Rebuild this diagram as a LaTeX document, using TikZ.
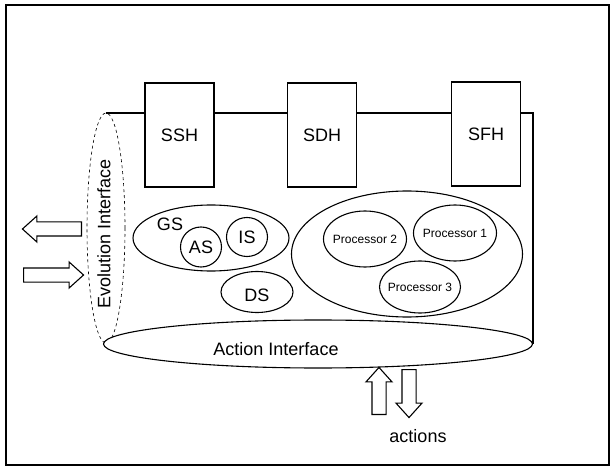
\documentclass[tikz,border=0pt]{standalone}
\usepackage{fontspec}
\setmainfont{Liberation Sans}
\usetikzlibrary{shapes,arrows,positioning}

\begin{document}
\begin{tikzpicture}[x=1pt, y=-1pt,
    hbox/.style={rectangle, draw=black, fill=white, line width=1.1pt, minimum width=69pt, minimum height=104pt, inner sep=0pt, font=\fontsize{18}{18}\selectfont},
    oval/.style={ellipse, draw=black, line width=1.1pt, inner sep=0pt},
    biglbl/.style={font=\fontsize{18}{18}\selectfont, inner sep=0pt},
    smalllbl/.style={font=\fontsize{12}{12}\selectfont, inner sep=0pt},
    blockarrow/.style={single arrow, draw=black, fill=white, line width=1.1pt, inner sep=6.5pt, single arrow head extend=6pt, single arrow tip angle=84}]

    % Frame
    \useasboundingbox (0,0) rectangle (611,468);
    \draw[line width=1.6pt] (6,5) rectangle (609,465);

    % Cylinder outline
    \draw[line width=1.1pt] (106,113) -- (533,113) -- (533,344);
    \draw[dashed, line width=0.6pt] (106,228) ellipse [x radius=19, y radius=115];
    \node[oval, fill=white, minimum width=429pt, minimum height=48pt] (actif) at (318,344) {};

    % Interface labels
    \node[biglbl, rotate=90] (evolbl) at (104,234) {Evolution Interface};
    \node[biglbl] (actlbl) at (276,349) {Action Interface};
    \node[biglbl] (actionslbl) at (418,436) {actions};

    % Handlers
    \node[hbox] (ssh) at (179.5,135) {SSH};
    \node[hbox] (sdh) at (322,135) {SDH};
    \node[hbox] (sfh) at (486,134) {SFH};

    % Stores
    \node[oval, minimum width=156pt, minimum height=66pt] (gs) at (211,238) {};
    \node[biglbl] (gslbl) at (170,224) {GS};
    \node[oval, minimum width=41pt, minimum height=40pt] (as) at (201,247) {};
    \node[biglbl] (aslbl) at (as) {AS};
    \node[oval, minimum width=41pt, minimum height=39pt] (is) at (247,237) {};
    \node[biglbl] (islbl) at (is) {IS};
    \node[oval, minimum width=72pt, minimum height=41pt] (ds) at (257,292) {};
    \node[biglbl] (dslbl) at (257,295) {DS};

    % Processors
    \node[oval, minimum width=231pt, minimum height=126pt] (procs) at (407,254) {};
    \node[oval, minimum width=83pt, minimum height=56pt] (proc2) at (365,239) {};
    \node[smalllbl] (proc2lbl) at (proc2) {Processor 2};
    \node[oval, minimum width=83pt, minimum height=56pt] (proc1) at (455,233) {};
    \node[smalllbl] (proc1lbl) at (proc1) {Processor 1};
    \node[oval, minimum width=81pt, minimum height=52pt] (proc3) at (420,287) {};
    \node[smalllbl] (proc3lbl) at (proc3) {Processor 3};

    % Block arrows
    \node[blockarrow, minimum height=59pt, shape border rotate=180, anchor=tail] (evoout) at (82,229) {};
    \node[blockarrow, minimum height=60pt, anchor=tail] (evoin) at (23,275) {};
    \node[blockarrow, minimum height=47pt, shape border rotate=90, anchor=tail] (actin) at (379,415) {};
    \node[blockarrow, minimum height=48pt, shape border rotate=270, anchor=tail] (actout) at (409,369) {};

\end{tikzpicture}
\end{document}
